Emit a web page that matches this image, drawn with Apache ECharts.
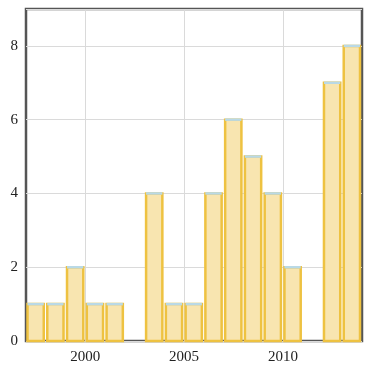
<!DOCTYPE html>
<html>
<head>
<meta charset="utf-8">
<script src="https://cdn.jsdelivr.net/npm/echarts@6/dist/echarts.min.js"></script>
<style>html,body{margin:0;padding:0;background:#fff}#c{width:378px;height:370px}</style>
</head>
<body>
<div id="c"></div>
<script>
const binStarts = [1997, 1998, 1999, 2000, 2001, 2003, 2004, 2005, 2006, 2007, 2008, 2009, 2010, 2012, 2013];
const counts    = [1,    1,    2,    1,    1,    4,    1,    1,    4,    6,    5,    4,    2,    7,    8];
const xTicks = [2000, 2005, 2010];

const chart = echarts.init(document.getElementById('c'));
const font = '"Liberation Serif", "DejaVu Serif", serif';
chart.setOption({
  animation: false,
  grid: { left: 26, right: 16, top: 9, bottom: 29, show: true, borderColor: '#555', borderWidth: 2.5, backgroundColor: 'transparent' },
  xAxis: {
    type: 'value', min: 1997, max: 2014,
    axisLine: { show: false },
    axisTick: { show: false, customValues: xTicks },
    axisLabel: { customValues: xTicks, color: '#222', fontFamily: font, fontSize: 15, margin: 9, formatter: v => String(v) },
    splitLine: { show: true, lineStyle: { color: '#dadada', width: 1 } }
  },
  yAxis: {
    type: 'value', min: 0, max: 9, interval: 2,
    axisLine: { show: false },
    axisTick: { show: false },
    axisLabel: { color: '#222', fontFamily: font, fontSize: 15, margin: 8, showMaxLabel: false },
    splitLine: { show: true, lineStyle: { color: '#dadada', width: 1 } }
  },
  series: [{
    type: 'custom',
    data: binStarts.map((s, i) => [s, counts[i]]),
    encode: { x: 0, y: 1 },
    renderItem: function (params, api) {
      const s = api.value(0), v = api.value(1);
      const p0 = api.coord([s, v]);
      const p1 = api.coord([s + 1, 0]);
      const x = p0[0] + 1.5, w = p1[0] - p0[0] - 3.5;
      const y = p0[1], h = p1[1] - p0[1];
      return {
        type: 'group',
        children: [
          { type: 'rect', shape: { x: x, y: y, width: w, height: h },
            style: { fill: '#f8e5b0', stroke: '#eec241', lineWidth: 2.5 } },
          { type: 'line', shape: { x1: x, y1: y, x2: x + w, y2: y },
            style: { stroke: '#b9d9e6', lineWidth: 2.5 } }
        ]
      };
    }
  }]
});
</script>
</body>
</html>
